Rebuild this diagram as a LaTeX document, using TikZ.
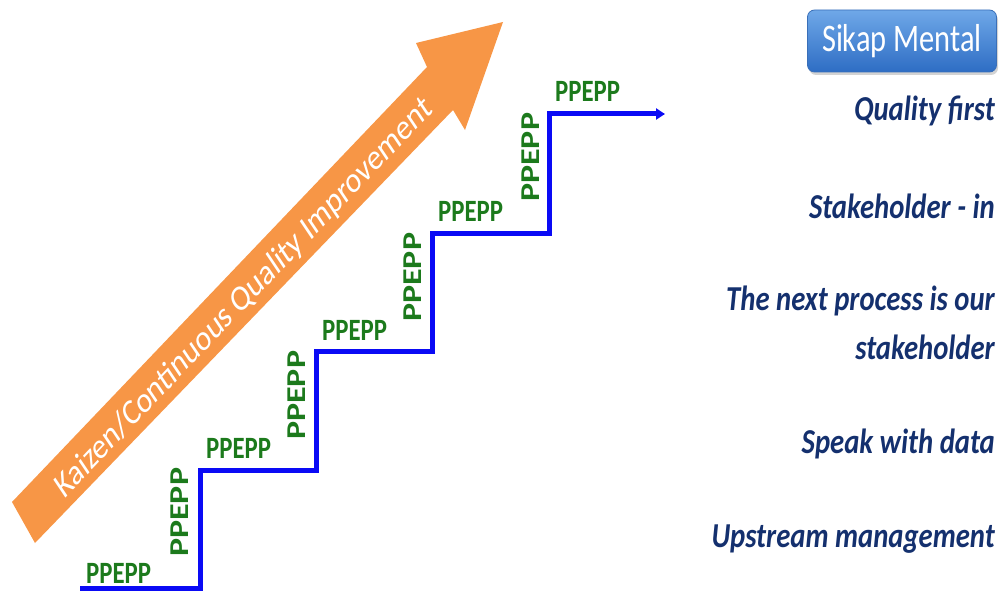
\documentclass[tikz,border=0pt]{standalone}
\usepackage{fontspec}
\setmainfont{Carlito}
\usepackage{graphicx}
\usetikzlibrary{arrows.meta,shadows}
\definecolor{korange}{HTML}{F79646}
\definecolor{pgreen}{HTML}{1C7A1C}
\definecolor{navytext}{HTML}{14306E}
\definecolor{stairblue}{HTML}{0A0AF5}
\definecolor{btop}{HTML}{6FA8E8}
\definecolor{bbot}{HTML}{2E6DC4}
\definecolor{bedge}{HTML}{3A6FB8}
\begin{document}
\begin{tikzpicture}[x=1pt,y=-1pt,
  hlabel/.style={text=pgreen, font=\bfseries\fontsize{31}{33}\selectfont, inner sep=0pt, anchor=base west},
  vlabel/.style={text=pgreen, font=\bfseries\fontsize{34}{36}\selectfont, inner sep=0pt, anchor=south east},
  rtext/.style={text=navytext, font=\bfseries\itshape\fontsize{35}{37}\selectfont, inner sep=0pt, anchor=base east},
  stair/.style={draw=stairblue, line width=5pt, line join=miter, -{Triangle[length=9pt,width=11pt]}},
  bigarrow/.style={fill=korange, draw=none},
  arrowtext/.style={text=white, font=\fontsize{36.5}{38}\selectfont, inner sep=0pt},
  button/.style={shade, top color=btop, bottom color=bbot, draw=bedge, line width=0.8pt,
    rounded corners=7pt, minimum width=189pt, minimum height=62pt, inner sep=0pt,
    text=white, font=\fontsize{39}{41}\selectfont,
    drop shadow={shadow xshift=1.5pt, shadow yshift=-3pt, opacity=0.35}}
]
\useasboundingbox (0,0) rectangle (1005,594);

% orange arrow
\coordinate (a1) at (35,543);
\coordinate (a2) at (12,502);
\coordinate (a3) at (427,67);
\coordinate (a4) at (416,43);
\coordinate (a5) at (503,22);
\coordinate (a6) at (465,130);
\coordinate (a7) at (453,110);
\fill[bigarrow] (a1) -- (a2) -- (a3) -- (a4) -- (a5) -- (a6) -- (a7) -- cycle;
\node[arrowtext] (kaizen) at (244,298) {\scalebox{0.8}[1]{\rotatebox{40}{Kaizen/Continuous Quality Improvement}}};

% staircase
\coordinate (s0) at (80,588);
\coordinate (s1) at (200,588);
\coordinate (s2) at (200,470);
\coordinate (s3) at (316,470);
\coordinate (s4) at (316,351);
\coordinate (s5) at (432,351);
\coordinate (s6) at (432,233);
\coordinate (s7) at (549,233);
\coordinate (s8) at (549,114);
\coordinate (s9) at (665,114);
\draw[stair] (s0) -- (s1) -- (s2) -- (s3) -- (s4) -- (s5) -- (s6) -- (s7) -- (s8) -- (s9);

% horizontal labels
\node[hlabel] (h1) at (86,583) {\scalebox{0.8}[1]{PPEPP}};
\node[hlabel] (h2) at (206,458) {\scalebox{0.8}[1]{PPEPP}};
\node[hlabel] (h3) at (322,340) {\scalebox{0.8}[1]{PPEPP}};
\node[hlabel] (h4) at (438,221) {\scalebox{0.8}[1]{PPEPP}};
\node[hlabel] (h5) at (555,102) {\scalebox{0.8}[1]{PPEPP}};

% vertical labels
\node[vlabel] (v1) at (189,557) {\scalebox{0.8}[1]{\rotatebox{90}{PPEPP}}};
\node[vlabel] (v2) at (306,440) {\scalebox{0.8}[1]{\rotatebox{90}{PPEPP}}};
\node[vlabel] (v3) at (422,322) {\scalebox{0.8}[1]{\rotatebox{90}{PPEPP}}};
\node[vlabel] (v4) at (540,202) {\scalebox{0.8}[1]{\rotatebox{90}{PPEPP}}};

% button
\node[button] (sm) at (902,41) {\scalebox{0.78}[1]{Sikap Mental}};

% right texts
\node[rtext] (t1) at (995,121) {\scalebox{0.82}[1]{Quality first}};
\node[rtext] (t2) at (995,218) {\scalebox{0.82}[1]{Stakeholder - in}};
\node[rtext] (t3) at (995,310) {\scalebox{0.82}[1]{The next process is our}};
\node[rtext] (t4) at (995,359) {\scalebox{0.82}[1]{stakeholder}};
\node[rtext] (t5) at (995,453) {\scalebox{0.82}[1]{Speak with data}};
\node[rtext] (t6) at (995,547) {\scalebox{0.82}[1]{Upstream management}};
\end{tikzpicture}
\end{document}
